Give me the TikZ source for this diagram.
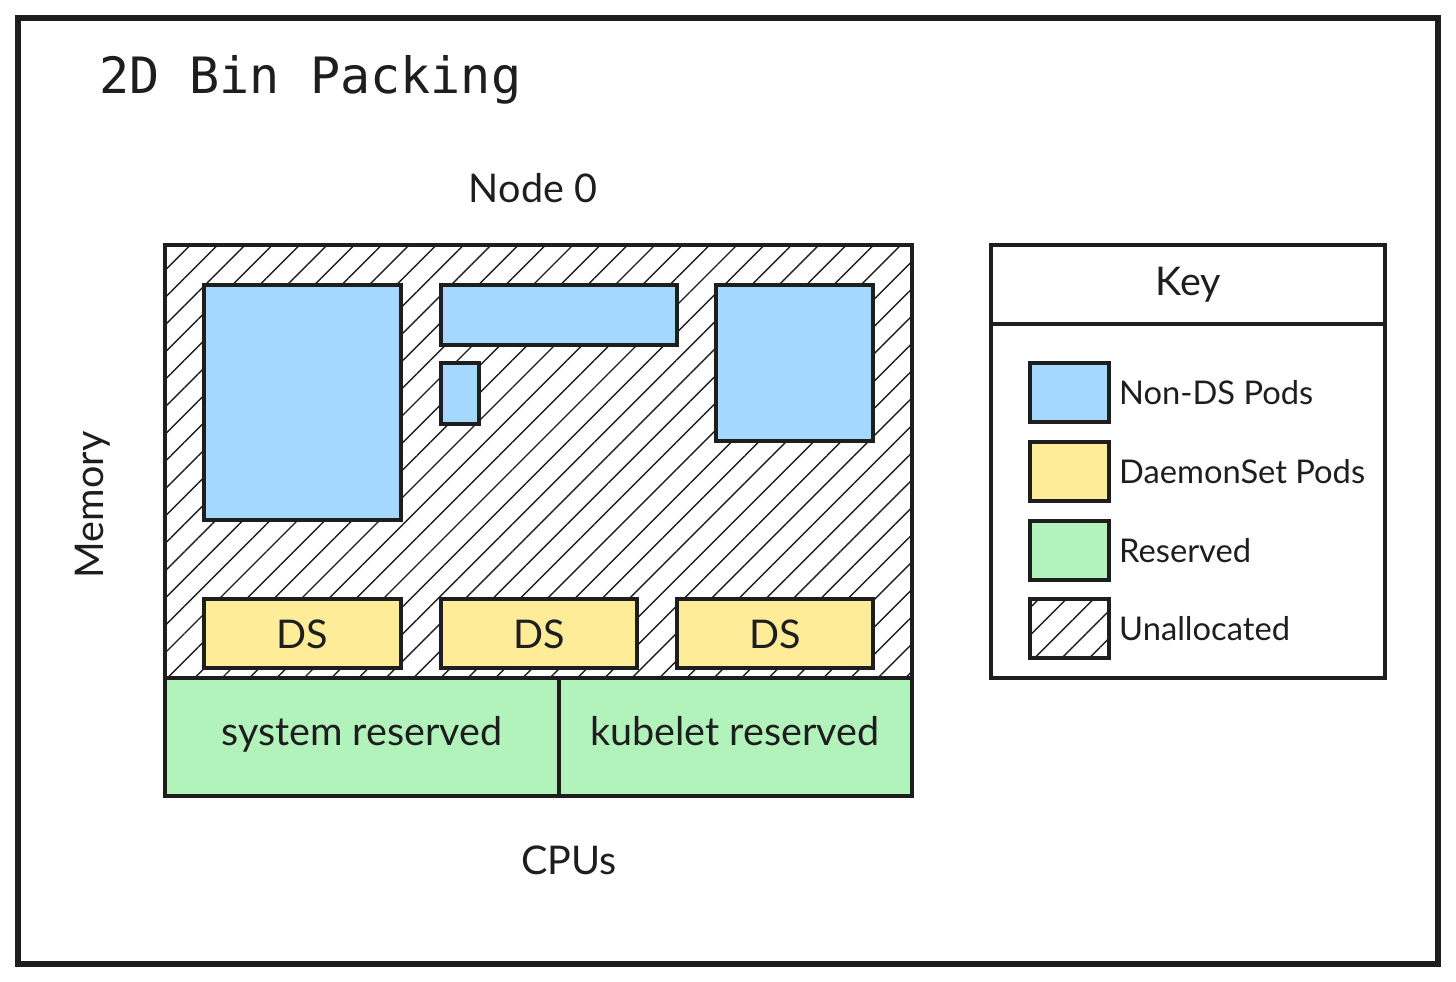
\documentclass[tikz,border=0pt]{standalone}
\usepackage{fontspec}
\setmainfont{Lato}
\newfontfamily\titlefont{DejaVu Sans Mono}
\usetikzlibrary{patterns.meta}
\definecolor{cblue}{HTML}{A5D8FF}
\definecolor{cyel}{HTML}{FFEC99}
\definecolor{cgreen}{HTML}{B2F2BB}
\definecolor{ink}{HTML}{1E1E1E}
\begin{document}
\begin{tikzpicture}[x=0.02cm,y=-0.02cm,
  box/.style={draw=ink,line width=2pt},
  hatch/.style={box,pattern={Lines[angle=45,distance=11pt,line width=0.8pt]},pattern color=ink},
  lbl/.style={font=\fontsize{22.5}{26}\selectfont,text=ink},
  klbl/.style={font=\fontsize{18.6}{22}\selectfont,text=ink,anchor=west}]
\useasboundingbox (0,0) rectangle (1456,982);
\draw[draw=ink,line width=3pt] (18,18) rectangle (1438,964);
\node[anchor=west,font=\titlefont\fontsize{28.5}{32}\selectfont,text=ink] (title) at (93,80) {2D Bin Packing};
\node[lbl] (n0) at (533,188) {Node 0};
\draw[hatch] (165,245) rectangle (912,678);
\draw[box,fill=cblue] (204,285) rectangle (401,520);
\draw[box,fill=cblue] (441,285) rectangle (677,345);
\draw[box,fill=cblue] (441,363) rectangle (479,424);
\draw[box,fill=cblue] (716,285) rectangle (873,441);
\foreach \a/\b/\n in {204/401/ds1,441/637/ds2,677/873/ds3}{
  \draw[box,fill=cyel] (\a,599) rectangle (\b,668);
  \node[lbl] (\n) at ({(\a+\b)/2},634) {DS};
}
\draw[box,fill=cgreen] (165,678) rectangle (559,796);
\draw[box,fill=cgreen] (559,678) rectangle (912,796);
\node[lbl,text height=1.6ex,text depth=0.4ex] (sr) at (362,740) {system reserved};
\node[lbl,text height=1.6ex,text depth=0.4ex] (kr) at (735,740) {kubelet reserved};
\node[lbl,rotate=90] (mem) at (93,505) {Memory};
\node[lbl] (cpu) at (569,860) {CPUs};
\draw[box] (991,245) rectangle (1385,678);
\draw[box] (991,324) -- (1385,324);
\node[lbl] (key) at (1188,285) {Key};
\draw[box,fill=cblue] (1030,363) rectangle (1109,422);
\draw[box,fill=cyel] (1030,442) rectangle (1109,501);
\draw[box,fill=cgreen] (1030,521) rectangle (1109,580);
\draw[hatch] (1030,599) rectangle (1109,658);
\node[klbl] (k1) at (1113,393) {Non-DS Pods};
\node[klbl] (k2) at (1113,472) {DaemonSet Pods};
\node[klbl] (k3) at (1113,551) {Reserved};
\node[klbl] (k4) at (1113,629) {Unallocated};
\end{tikzpicture}
\end{document}
